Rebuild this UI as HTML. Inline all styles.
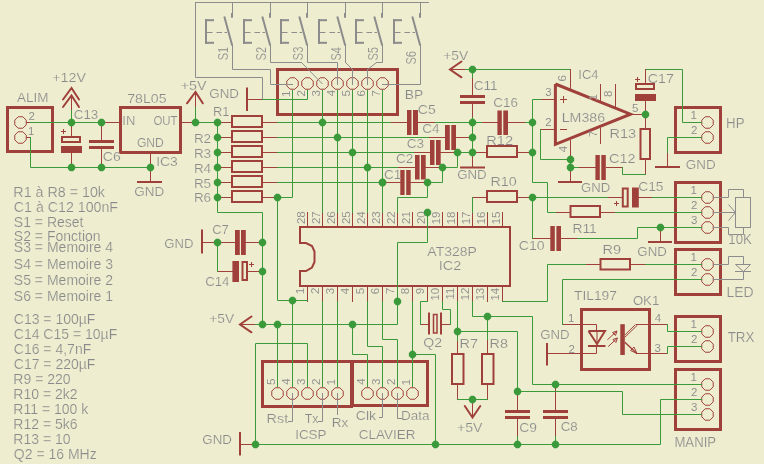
<!DOCTYPE html>
<html><head><meta charset="utf-8"><style>html,body{margin:0;padding:0;background:#EEEDD0;width:764px;height:464px;overflow:hidden}svg{display:block}svg{will-change:transform}</style></head>
<body><svg width="764" height="464" viewBox="0 0 764 464" font-family="'Liberation Sans', sans-serif"><style>text{stroke:#EEEDD0;stroke-width:0.18px}text.s{stroke-width:0.05px}</style>
<rect width="764" height="464" fill="#EEEDD0"/>
<g opacity="0.999"><path d="M6 106H54V153H6Z M9 109V150H51V109Z" fill="#A0403A" fill-rule="evenodd"/>
<polygon points="26.23,124.87 22.87,128.23 18.13,128.23 14.77,124.87 14.77,120.13 18.13,116.77 22.87,116.77 26.23,120.13" fill="none" stroke="#A0403A" stroke-width="1"/>
<polygon points="26.23,139.87 22.87,143.23 18.13,143.23 14.77,139.87 14.77,135.13 18.13,131.77 22.87,131.77 26.23,135.13" fill="none" stroke="#A0403A" stroke-width="1"/>
<path d="M26.5 122.5L30.5 122.5" stroke="#A0403A" stroke-width="1" fill="none" stroke-linecap="square"/>
<path d="M104.5 122.5L120.5 122.5" stroke="#A0403A" stroke-width="1" fill="none" stroke-linecap="square"/>
<path d="M26.5 137.5L30.5 137.5" stroke="#A0403A" stroke-width="1" fill="none" stroke-linecap="square"/>
<path d="M63 99.5L71.5 88L79 99.5" stroke="#A0403A" stroke-width="2" fill="none" stroke-linecap="round" stroke-linejoin="miter"/>
<path d="M63 107L71.5 95.5L79 107" stroke="#A0403A" stroke-width="2" fill="none" stroke-linecap="round" stroke-linejoin="miter"/>
<path d="M71.5 95.5L71.5 110.5" stroke="#A0403A" stroke-width="1" fill="none" stroke-linecap="square"/>
<path d="M61 136H81V143H61Z M63 138V141H79V138Z" fill="#A0403A" fill-rule="evenodd"/>
<rect x="61" y="146" width="21" height="7" fill="#A0403A"/>
<path d="M71.5 122.5L71.5 135.5" stroke="#A0403A" stroke-width="1" fill="none" stroke-linecap="square"/>
<path d="M71.5 153.5L71.5 167.5" stroke="#A0403A" stroke-width="1" fill="none" stroke-linecap="square"/>
<path d="M61 131.5L66 131.5" stroke="#A0403A" stroke-width="1" fill="none" stroke-linecap="butt" stroke-linejoin="miter"/>
<path d="M63.5 129L63.5 134" stroke="#A0403A" stroke-width="1" fill="none" stroke-linecap="butt" stroke-linejoin="miter"/>
<rect x="89" y="140" width="25" height="3" fill="#A0403A"/>
<rect x="89" y="146" width="25" height="3" fill="#A0403A"/>
<path d="M101.5 122.5L101.5 139.5" stroke="#A0403A" stroke-width="1" fill="none" stroke-linecap="square"/>
<path d="M101.5 149.5L101.5 167.5" stroke="#A0403A" stroke-width="1" fill="none" stroke-linecap="square"/>
<path d="M119 106H182V154H119Z M122 109V151H179V109Z" fill="#A0403A" fill-rule="evenodd"/>
<path d="M150.5 153.5L150.5 181.5" stroke="#A0403A" stroke-width="1" fill="none" stroke-linecap="square"/>
<path d="M137 182L162 182" stroke="#A0403A" stroke-width="2" fill="none" stroke-linecap="butt" stroke-linejoin="miter"/>
<path d="M182.5 122.5L192.5 122.5" stroke="#A0403A" stroke-width="1" fill="none" stroke-linecap="square"/>
<path d="M187 103.3L195.5 92L202.8 103.3" stroke="#A0403A" stroke-width="2" fill="none" stroke-linecap="round" stroke-linejoin="miter"/>
<path d="M195.5 92.5L195.5 107.5" stroke="#A0403A" stroke-width="1" fill="none" stroke-linecap="square"/>
<path d="M276 68H399V116H276Z M279 71V113H396V71Z" fill="#A0403A" fill-rule="evenodd"/>
<polygon points="298.23,85.87 294.87,89.23 290.13,89.23 286.77,85.87 286.77,81.13 290.13,77.77 294.87,77.77 298.23,81.13" fill="none" stroke="#A0403A" stroke-width="1"/>
<polygon points="313.23,85.87 309.87,89.23 305.13,89.23 301.77,85.87 301.77,81.13 305.13,77.77 309.87,77.77 313.23,81.13" fill="none" stroke="#A0403A" stroke-width="1"/>
<polygon points="328.23,85.87 324.87,89.23 320.13,89.23 316.77,85.87 316.77,81.13 320.13,77.77 324.87,77.77 328.23,81.13" fill="none" stroke="#A0403A" stroke-width="1"/>
<polygon points="343.23,85.87 339.87,89.23 335.13,89.23 331.77,85.87 331.77,81.13 335.13,77.77 339.87,77.77 343.23,81.13" fill="none" stroke="#A0403A" stroke-width="1"/>
<polygon points="358.23,85.87 354.87,89.23 350.13,89.23 346.77,85.87 346.77,81.13 350.13,77.77 354.87,77.77 358.23,81.13" fill="none" stroke="#A0403A" stroke-width="1"/>
<polygon points="373.23,85.87 369.87,89.23 365.13,89.23 361.77,85.87 361.77,81.13 365.13,77.77 369.87,77.77 373.23,81.13" fill="none" stroke="#A0403A" stroke-width="1"/>
<polygon points="388.23,85.87 384.87,89.23 380.13,89.23 376.77,85.87 376.77,81.13 380.13,77.77 384.87,77.77 388.23,81.13" fill="none" stroke="#A0403A" stroke-width="1"/>
<path d="M247 87.5L247 111" stroke="#A0403A" stroke-width="2" fill="none" stroke-linecap="butt" stroke-linejoin="miter"/>
<path d="M248.5 99.5L262.5 99.5" stroke="#A0403A" stroke-width="1" fill="none" stroke-linecap="square"/>
<path d="M231 115H263V128H231Z M233 117V126H261V117Z" fill="#A0403A" fill-rule="evenodd"/>
<path d="M217.5 122.5L231.5 122.5" stroke="#A0403A" stroke-width="1" fill="none" stroke-linecap="square"/>
<path d="M263.5 122.5L277.5 122.5" stroke="#A0403A" stroke-width="1" fill="none" stroke-linecap="square"/>
<path d="M231 130H263V143H231Z M233 132V141H261V132Z" fill="#A0403A" fill-rule="evenodd"/>
<path d="M217.5 137.5L231.5 137.5" stroke="#A0403A" stroke-width="1" fill="none" stroke-linecap="square"/>
<path d="M263.5 137.5L277.5 137.5" stroke="#A0403A" stroke-width="1" fill="none" stroke-linecap="square"/>
<path d="M231 145H263V158H231Z M233 147V156H261V147Z" fill="#A0403A" fill-rule="evenodd"/>
<path d="M217.5 152.5L231.5 152.5" stroke="#A0403A" stroke-width="1" fill="none" stroke-linecap="square"/>
<path d="M263.5 152.5L277.5 152.5" stroke="#A0403A" stroke-width="1" fill="none" stroke-linecap="square"/>
<path d="M231 160H263V173H231Z M233 162V171H261V162Z" fill="#A0403A" fill-rule="evenodd"/>
<path d="M217.5 167.5L231.5 167.5" stroke="#A0403A" stroke-width="1" fill="none" stroke-linecap="square"/>
<path d="M263.5 167.5L277.5 167.5" stroke="#A0403A" stroke-width="1" fill="none" stroke-linecap="square"/>
<path d="M231 175H263V188H231Z M233 177V186H261V177Z" fill="#A0403A" fill-rule="evenodd"/>
<path d="M217.5 182.5L231.5 182.5" stroke="#A0403A" stroke-width="1" fill="none" stroke-linecap="square"/>
<path d="M263.5 182.5L277.5 182.5" stroke="#A0403A" stroke-width="1" fill="none" stroke-linecap="square"/>
<path d="M231 190H263V203H231Z M233 192V201H261V192Z" fill="#A0403A" fill-rule="evenodd"/>
<path d="M217.5 197.5L231.5 197.5" stroke="#A0403A" stroke-width="1" fill="none" stroke-linecap="square"/>
<path d="M263.5 197.5L277.5 197.5" stroke="#A0403A" stroke-width="1" fill="none" stroke-linecap="square"/>
<rect x="407" y="110" width="4.5" height="25" fill="#A0403A"/>
<rect x="413" y="110" width="5" height="25" fill="#A0403A"/>
<path d="M390.5 122.5L407.5 122.5" stroke="#A0403A" stroke-width="1" fill="none" stroke-linecap="square"/>
<path d="M418.5 122.5L435.5 122.5" stroke="#A0403A" stroke-width="1" fill="none" stroke-linecap="square"/>
<rect x="445" y="125" width="4.8" height="25" fill="#A0403A"/>
<rect x="451.3" y="125" width="4.7" height="25" fill="#A0403A"/>
<path d="M428.5 137.5L445.5 137.5" stroke="#A0403A" stroke-width="1" fill="none" stroke-linecap="square"/>
<path d="M456.5 137.5L472.5 137.5" stroke="#A0403A" stroke-width="1" fill="none" stroke-linecap="square"/>
<rect x="430" y="140" width="4.5" height="25" fill="#A0403A"/>
<rect x="436" y="140" width="4.7" height="25" fill="#A0403A"/>
<path d="M413.5 152.5L430.5 152.5" stroke="#A0403A" stroke-width="1" fill="none" stroke-linecap="square"/>
<path d="M440.5 152.5L457.5 152.5" stroke="#A0403A" stroke-width="1" fill="none" stroke-linecap="square"/>
<rect x="415" y="155" width="4.6" height="24.5" fill="#A0403A"/>
<rect x="421" y="155" width="4.7" height="24.5" fill="#A0403A"/>
<path d="M397.5 167.5L415.5 167.5" stroke="#A0403A" stroke-width="1" fill="none" stroke-linecap="square"/>
<path d="M425.5 167.5L442.5 167.5" stroke="#A0403A" stroke-width="1" fill="none" stroke-linecap="square"/>
<rect x="400.3" y="170" width="4.3" height="25" fill="#A0403A"/>
<rect x="406.2" y="170" width="4.5" height="25" fill="#A0403A"/>
<path d="M382.5 182.5L400.5 182.5" stroke="#A0403A" stroke-width="1" fill="none" stroke-linecap="square"/>
<path d="M410.5 182.5L427.5 182.5" stroke="#A0403A" stroke-width="1" fill="none" stroke-linecap="square"/>
<path d="M472.5 152.5L472.5 166.5" stroke="#A0403A" stroke-width="1" fill="none" stroke-linecap="square"/>
<path d="M460 167.5L485 167.5" stroke="#A0403A" stroke-width="2" fill="none" stroke-linecap="butt" stroke-linejoin="miter"/>
<path d="M486 145H518V158H486Z M488 147V156H516V147Z" fill="#A0403A" fill-rule="evenodd"/>
<path d="M472.5 152.5L486.5 152.5" stroke="#A0403A" stroke-width="1" fill="none" stroke-linecap="square"/>
<path d="M518.5 152.5L532.5 152.5" stroke="#A0403A" stroke-width="1" fill="none" stroke-linecap="square"/>
<path d="M486 190H518V203H486Z M488 192V201H516V192Z" fill="#A0403A" fill-rule="evenodd"/>
<path d="M472.5 197.5L486.5 197.5" stroke="#A0403A" stroke-width="1" fill="none" stroke-linecap="square"/>
<path d="M518.5 197.5L532.5 197.5" stroke="#A0403A" stroke-width="1" fill="none" stroke-linecap="square"/>
<path d="M461.5 61.5L450 69.5L461.5 77.3" stroke="#A0403A" stroke-width="2" fill="none" stroke-linecap="round" stroke-linejoin="miter"/>
<path d="M450.5 69.5L465.5 69.5" stroke="#A0403A" stroke-width="1" fill="none" stroke-linecap="square"/>
<rect x="460" y="95" width="25" height="3" fill="#A0403A"/>
<rect x="460" y="101" width="25" height="3" fill="#A0403A"/>
<path d="M472.5 77.5L472.5 95.5" stroke="#A0403A" stroke-width="1" fill="none" stroke-linecap="square"/>
<path d="M472.5 104.5L472.5 117.5" stroke="#A0403A" stroke-width="1" fill="none" stroke-linecap="square"/>
<rect x="497.4" y="110.5" width="4.4" height="24.5" fill="#A0403A"/>
<rect x="503.3" y="110.5" width="4.7" height="24.5" fill="#A0403A"/>
<path d="M481.5 122.5L497.5 122.5" stroke="#A0403A" stroke-width="1" fill="none" stroke-linecap="square"/>
<path d="M508.5 122.5L525.5 122.5" stroke="#A0403A" stroke-width="1" fill="none" stroke-linecap="square"/>
<path d="M540.5 99.5L555.5 99.5" stroke="#A0403A" stroke-width="1" fill="none" stroke-linecap="square"/>
<path d="M555.4 84L630.5 114.2L555.4 144.4L555.4 84" stroke="#A0403A" stroke-width="3" fill="none" stroke-linecap="butt" stroke-linejoin="miter"/>
<path d="M570.5 69.5L570.5 89.5" stroke="#A0403A" stroke-width="1" fill="none" stroke-linecap="square"/>
<path d="M540.5 129.5L555.5 129.5" stroke="#A0403A" stroke-width="1" fill="none" stroke-linecap="square"/>
<path d="M570.5 140.5L570.5 159.5" stroke="#A0403A" stroke-width="1" fill="none" stroke-linecap="square"/>
<path d="M570.5 167.5L570.5 181.5" stroke="#A0403A" stroke-width="1" fill="none" stroke-linecap="square"/>
<path d="M558 182L582 182" stroke="#A0403A" stroke-width="2" fill="none" stroke-linecap="butt" stroke-linejoin="miter"/>
<path d="M560 99.5L567 99.5" stroke="#A0403A" stroke-width="1" fill="none" stroke-linecap="butt" stroke-linejoin="miter"/>
<path d="M563.5 96L563.5 103" stroke="#A0403A" stroke-width="1" fill="none" stroke-linecap="butt" stroke-linejoin="miter"/>
<path d="M560 129.5L567 129.5" stroke="#A0403A" stroke-width="1" fill="none" stroke-linecap="butt" stroke-linejoin="miter"/>
<path d="M600.5 84.5L600.5 101.5" stroke="#A0403A" stroke-width="1" fill="none" stroke-linecap="square"/>
<path d="M615.5 84.5L615.5 107.5" stroke="#A0403A" stroke-width="1" fill="none" stroke-linecap="square"/>
<path d="M600.5 128.5L600.5 143.5" stroke="#A0403A" stroke-width="1" fill="none" stroke-linecap="square"/>
<path d="M630.5 114.5L645.5 114.5" stroke="#A0403A" stroke-width="1" fill="none" stroke-linecap="square"/>
<path d="M635 83H655V90H635Z M637 85V88H653V85Z" fill="#A0403A" fill-rule="evenodd"/>
<rect x="635" y="94" width="21" height="7" fill="#A0403A"/>
<path d="M635 79.5L640 79.5" stroke="#A0403A" stroke-width="1" fill="none" stroke-linecap="butt" stroke-linejoin="miter"/>
<path d="M637.5 77L637.5 82" stroke="#A0403A" stroke-width="1" fill="none" stroke-linecap="butt" stroke-linejoin="miter"/>
<path d="M645.5 69.5L645.5 83.5" stroke="#A0403A" stroke-width="1" fill="none" stroke-linecap="square"/>
<path d="M645.5 101.5L645.5 128.5" stroke="#A0403A" stroke-width="1" fill="none" stroke-linecap="square"/>
<path d="M639.5 128H651V160H639.5Z M641.5 130V158H649V130Z" fill="#A0403A" fill-rule="evenodd"/>
<path d="M645.5 160.5L645.5 174.5" stroke="#A0403A" stroke-width="1" fill="none" stroke-linecap="square"/>
<path d="M622.5 167.5L606.5 167.5" stroke="#A0403A" stroke-width="1" fill="none" stroke-linecap="square"/>
<rect x="595.4" y="155" width="4.4" height="25" fill="#A0403A"/>
<rect x="601.3" y="155" width="4.5" height="25" fill="#A0403A"/>
<path d="M578.5 167.5L595.5 167.5" stroke="#A0403A" stroke-width="1" fill="none" stroke-linecap="square"/>
<path d="M674 106H722V154H674Z M677 109V151H719V109Z" fill="#A0403A" fill-rule="evenodd"/>
<polygon points="713.23,124.87 709.87,128.23 705.13,128.23 701.77,124.87 701.77,120.13 705.13,116.77 709.87,116.77 713.23,120.13" fill="none" stroke="#A0403A" stroke-width="1"/>
<polygon points="713.23,139.87 709.87,143.23 705.13,143.23 701.77,139.87 701.77,135.13 705.13,131.77 709.87,131.77 713.23,135.13" fill="none" stroke="#A0403A" stroke-width="1"/>
<path d="M667.5 152.5L667.5 166.5" stroke="#A0403A" stroke-width="1" fill="none" stroke-linecap="square"/>
<path d="M655 167L680 167" stroke="#A0403A" stroke-width="2" fill="none" stroke-linecap="butt" stroke-linejoin="miter"/>
<path d="M674 181H722V244H674Z M677 184V241H719V184Z" fill="#A0403A" fill-rule="evenodd"/>
<polygon points="713.23,199.87 709.87,203.23 705.13,203.23 701.77,199.87 701.77,195.13 705.13,191.77 709.87,191.77 713.23,195.13" fill="none" stroke="#A0403A" stroke-width="1"/>
<polygon points="713.23,214.87 709.87,218.23 705.13,218.23 701.77,214.87 701.77,210.13 705.13,206.77 709.87,206.77 713.23,210.13" fill="none" stroke="#A0403A" stroke-width="1"/>
<polygon points="713.23,229.87 709.87,233.23 705.13,233.23 701.77,229.87 701.77,225.13 705.13,221.77 709.87,221.77 713.23,225.13" fill="none" stroke="#A0403A" stroke-width="1"/>
<path d="M638.5 197.5L652.5 197.5" stroke="#A0403A" stroke-width="1" fill="none" stroke-linecap="square"/>
<path d="M660.5 227.5L660.5 241.5" stroke="#A0403A" stroke-width="1" fill="none" stroke-linecap="square"/>
<path d="M648 242L672 242" stroke="#A0403A" stroke-width="2" fill="none" stroke-linecap="butt" stroke-linejoin="miter"/>
<path d="M674 248H722V296H674Z M677 251V293H719V251Z" fill="#A0403A" fill-rule="evenodd"/>
<polygon points="713.23,266.87 709.87,270.23 705.13,270.23 701.77,266.87 701.77,262.13 705.13,258.77 709.87,258.77 713.23,262.13" fill="none" stroke="#A0403A" stroke-width="1"/>
<polygon points="713.23,281.87 709.87,285.23 705.13,285.23 701.77,281.87 701.77,277.13 705.13,273.77 709.87,273.77 713.23,277.13" fill="none" stroke="#A0403A" stroke-width="1"/>
<path d="M630.5 264.5L645.5 264.5" stroke="#A0403A" stroke-width="1" fill="none" stroke-linecap="square"/>
<path d="M674 315H722V363H674Z M677 318V360H719V318Z" fill="#A0403A" fill-rule="evenodd"/>
<polygon points="713.23,333.87 709.87,337.23 705.13,337.23 701.77,333.87 701.77,329.13 705.13,325.77 709.87,325.77 713.23,329.13" fill="none" stroke="#A0403A" stroke-width="1"/>
<polygon points="713.23,348.87 709.87,352.23 705.13,352.23 701.77,348.87 701.77,344.13 705.13,340.77 709.87,340.77 713.23,344.13" fill="none" stroke="#A0403A" stroke-width="1"/>
<path d="M674 368H722V431H674Z M677 371V428H719V371Z" fill="#A0403A" fill-rule="evenodd"/>
<polygon points="713.23,386.87 709.87,390.23 705.13,390.23 701.77,386.87 701.77,382.13 705.13,378.77 709.87,378.77 713.23,382.13" fill="none" stroke="#A0403A" stroke-width="1"/>
<polygon points="713.23,401.87 709.87,405.23 705.13,405.23 701.77,401.87 701.77,397.13 705.13,393.77 709.87,393.77 713.23,397.13" fill="none" stroke="#A0403A" stroke-width="1"/>
<polygon points="713.23,416.87 709.87,420.23 705.13,420.23 701.77,416.87 701.77,412.13 705.13,408.77 709.87,408.77 713.23,412.13" fill="none" stroke="#A0403A" stroke-width="1"/>
<path d="M599.5 258H631V270.5H599.5Z M601.5 260V268.5H629V260Z" fill="#A0403A" fill-rule="evenodd"/>
<path d="M585.5 264.5L599.5 264.5" stroke="#A0403A" stroke-width="1" fill="none" stroke-linecap="square"/>
<path d="M569.5 205H601V218H569.5Z M571.5 207V216H599V207Z" fill="#A0403A" fill-rule="evenodd"/>
<path d="M555.5 212.5L569.5 212.5" stroke="#A0403A" stroke-width="1" fill="none" stroke-linecap="square"/>
<path d="M601.5 212.5L615.5 212.5" stroke="#A0403A" stroke-width="1" fill="none" stroke-linecap="square"/>
<rect x="550.3" y="226" width="4.5" height="25" fill="#A0403A"/>
<rect x="556.4" y="226" width="4.6" height="25" fill="#A0403A"/>
<path d="M532.5 238.5L550.5 238.5" stroke="#A0403A" stroke-width="1" fill="none" stroke-linecap="square"/>
<path d="M561.5 238.5L577.5 238.5" stroke="#A0403A" stroke-width="1" fill="none" stroke-linecap="square"/>
<path d="M607.5 197.5L622.5 197.5" stroke="#A0403A" stroke-width="1" fill="none" stroke-linecap="square"/>
<path d="M621.8 187.5H628.7V207.5H621.8Z M623.8 189.5V205.5H626.7V189.5Z" fill="#A0403A" fill-rule="evenodd"/>
<rect x="632" y="187.5" width="6.8" height="20" fill="#A0403A"/>
<path d="M614 203.5L619 203.5" stroke="#A0403A" stroke-width="1" fill="none" stroke-linecap="butt" stroke-linejoin="miter"/>
<path d="M616.5 201L616.5 206" stroke="#A0403A" stroke-width="1" fill="none" stroke-linecap="butt" stroke-linejoin="miter"/>
<path d="M300 227 H510 V286 H300 V271 H306 L312 267.5 L314.5 262 V251.5 L312 246 L306 243 H300 Z" fill="none" stroke="#A0403A" stroke-width="2"/>
<path d="M502.5 212.5L502.5 226.5" stroke="#A0403A" stroke-width="1" fill="none" stroke-linecap="square"/>
<path d="M487.5 212.5L487.5 226.5" stroke="#A0403A" stroke-width="1" fill="none" stroke-linecap="square"/>
<path d="M472.5 212.5L472.5 226.5" stroke="#A0403A" stroke-width="1" fill="none" stroke-linecap="square"/>
<path d="M457.5 212.5L457.5 226.5" stroke="#A0403A" stroke-width="1" fill="none" stroke-linecap="square"/>
<path d="M442.5 212.5L442.5 226.5" stroke="#A0403A" stroke-width="1" fill="none" stroke-linecap="square"/>
<path d="M427.5 212.5L427.5 226.5" stroke="#A0403A" stroke-width="1" fill="none" stroke-linecap="square"/>
<path d="M412.5 212.5L412.5 226.5" stroke="#A0403A" stroke-width="1" fill="none" stroke-linecap="square"/>
<path d="M397.5 212.5L397.5 226.5" stroke="#A0403A" stroke-width="1" fill="none" stroke-linecap="square"/>
<path d="M382.5 212.5L382.5 226.5" stroke="#A0403A" stroke-width="1" fill="none" stroke-linecap="square"/>
<path d="M367.5 212.5L367.5 226.5" stroke="#A0403A" stroke-width="1" fill="none" stroke-linecap="square"/>
<path d="M352.5 212.5L352.5 226.5" stroke="#A0403A" stroke-width="1" fill="none" stroke-linecap="square"/>
<path d="M337.5 212.5L337.5 226.5" stroke="#A0403A" stroke-width="1" fill="none" stroke-linecap="square"/>
<path d="M322.5 212.5L322.5 226.5" stroke="#A0403A" stroke-width="1" fill="none" stroke-linecap="square"/>
<path d="M307.5 212.5L307.5 226.5" stroke="#A0403A" stroke-width="1" fill="none" stroke-linecap="square"/>
<path d="M307.5 286.5L307.5 301.5" stroke="#A0403A" stroke-width="1" fill="none" stroke-linecap="square"/>
<path d="M322.5 286.5L322.5 301.5" stroke="#A0403A" stroke-width="1" fill="none" stroke-linecap="square"/>
<path d="M337.5 286.5L337.5 301.5" stroke="#A0403A" stroke-width="1" fill="none" stroke-linecap="square"/>
<path d="M352.5 286.5L352.5 301.5" stroke="#A0403A" stroke-width="1" fill="none" stroke-linecap="square"/>
<path d="M367.5 286.5L367.5 301.5" stroke="#A0403A" stroke-width="1" fill="none" stroke-linecap="square"/>
<path d="M382.5 286.5L382.5 301.5" stroke="#A0403A" stroke-width="1" fill="none" stroke-linecap="square"/>
<path d="M397.5 286.5L397.5 301.5" stroke="#A0403A" stroke-width="1" fill="none" stroke-linecap="square"/>
<path d="M412.5 286.5L412.5 301.5" stroke="#A0403A" stroke-width="1" fill="none" stroke-linecap="square"/>
<path d="M427.5 286.5L427.5 301.5" stroke="#A0403A" stroke-width="1" fill="none" stroke-linecap="square"/>
<path d="M442.5 286.5L442.5 301.5" stroke="#A0403A" stroke-width="1" fill="none" stroke-linecap="square"/>
<path d="M457.5 286.5L457.5 301.5" stroke="#A0403A" stroke-width="1" fill="none" stroke-linecap="square"/>
<path d="M472.5 286.5L472.5 301.5" stroke="#A0403A" stroke-width="1" fill="none" stroke-linecap="square"/>
<path d="M487.5 286.5L487.5 301.5" stroke="#A0403A" stroke-width="1" fill="none" stroke-linecap="square"/>
<path d="M502.5 286.5L502.5 301.5" stroke="#A0403A" stroke-width="1" fill="none" stroke-linecap="square"/>
<path d="M420.5 324.5L428.5 324.5" stroke="#A0403A" stroke-width="1" fill="none" stroke-linecap="square"/>
<path d="M450.5 324.5L442.5 324.5" stroke="#A0403A" stroke-width="1" fill="none" stroke-linecap="square"/>
<path d="M429 312.5L429 334.5" stroke="#A0403A" stroke-width="2" fill="none" stroke-linecap="butt" stroke-linejoin="miter"/>
<path d="M441 312.5L441 334.5" stroke="#A0403A" stroke-width="2" fill="none" stroke-linecap="butt" stroke-linejoin="miter"/>
<rect x="433.5" y="314.5" width="3.5" height="18.5" fill="none" stroke="#A0403A" stroke-width="1.5"/>
<path d="M457.5 340.5L457.5 353.5" stroke="#A0403A" stroke-width="1" fill="none" stroke-linecap="square"/>
<path d="M487.5 339.5L487.5 353.5" stroke="#A0403A" stroke-width="1" fill="none" stroke-linecap="square"/>
<path d="M451 353H464.5V385H451Z M453 355V383H462.5V355Z" fill="#A0403A" fill-rule="evenodd"/>
<path d="M481 353H494.5V385H481Z M483 355V383H492.5V355Z" fill="#A0403A" fill-rule="evenodd"/>
<path d="M457.5 385.5L457.5 399.5" stroke="#A0403A" stroke-width="1" fill="none" stroke-linecap="square"/>
<path d="M487.5 385.5L487.5 399.5" stroke="#A0403A" stroke-width="1" fill="none" stroke-linecap="square"/>
<path d="M472.5 399.5L472.5 417.5" stroke="#A0403A" stroke-width="1" fill="none" stroke-linecap="square"/>
<path d="M464.8 406L472.5 417.5L480.3 406" stroke="#A0403A" stroke-width="2" fill="none" stroke-linecap="round" stroke-linejoin="miter"/>
<rect x="505" y="410" width="25" height="3" fill="#A0403A"/>
<rect x="505" y="416" width="25" height="3" fill="#A0403A"/>
<rect x="543" y="410" width="25" height="3" fill="#A0403A"/>
<rect x="543" y="416" width="25" height="3" fill="#A0403A"/>
<path d="M517.5 391.5L517.5 410.5" stroke="#A0403A" stroke-width="1" fill="none" stroke-linecap="square"/>
<path d="M517.5 419.5L517.5 436.5" stroke="#A0403A" stroke-width="1" fill="none" stroke-linecap="square"/>
<path d="M555.5 384.5L555.5 410.5" stroke="#A0403A" stroke-width="1" fill="none" stroke-linecap="square"/>
<path d="M555.5 419.5L555.5 436.5" stroke="#A0403A" stroke-width="1" fill="none" stroke-linecap="square"/>
<path d="M261 360H353V408H261Z M264 363V405H350V363Z" fill="#A0403A" fill-rule="evenodd"/>
<path d="M351 360H429V407H351Z M354 363V404H426V363Z" fill="#A0403A" fill-rule="evenodd"/>
<polygon points="283.23,395.87 279.87,399.23 275.13,399.23 271.77,395.87 271.77,391.13 275.13,387.77 279.87,387.77 283.23,391.13" fill="none" stroke="#A0403A" stroke-width="1"/>
<polygon points="298.23,395.87 294.87,399.23 290.13,399.23 286.77,395.87 286.77,391.13 290.13,387.77 294.87,387.77 298.23,391.13" fill="none" stroke="#A0403A" stroke-width="1"/>
<polygon points="313.23,395.87 309.87,399.23 305.13,399.23 301.77,395.87 301.77,391.13 305.13,387.77 309.87,387.77 313.23,391.13" fill="none" stroke="#A0403A" stroke-width="1"/>
<polygon points="328.23,395.87 324.87,399.23 320.13,399.23 316.77,395.87 316.77,391.13 320.13,387.77 324.87,387.77 328.23,391.13" fill="none" stroke="#A0403A" stroke-width="1"/>
<polygon points="343.23,395.87 339.87,399.23 335.13,399.23 331.77,395.87 331.77,391.13 335.13,387.77 339.87,387.77 343.23,391.13" fill="none" stroke="#A0403A" stroke-width="1"/>
<polygon points="373.23,395.87 369.87,399.23 365.13,399.23 361.77,395.87 361.77,391.13 365.13,387.77 369.87,387.77 373.23,391.13" fill="none" stroke="#A0403A" stroke-width="1"/>
<polygon points="388.23,395.87 384.87,399.23 380.13,399.23 376.77,395.87 376.77,391.13 380.13,387.77 384.87,387.77 388.23,391.13" fill="none" stroke="#A0403A" stroke-width="1"/>
<polygon points="403.23,395.87 399.87,399.23 395.13,399.23 391.77,395.87 391.77,391.13 395.13,387.77 399.87,387.77 403.23,391.13" fill="none" stroke="#A0403A" stroke-width="1"/>
<polygon points="418.23,395.87 414.87,399.23 410.13,399.23 406.77,395.87 406.77,391.13 410.13,387.77 414.87,387.77 418.23,391.13" fill="none" stroke="#A0403A" stroke-width="1"/>
<path d="M240 432L240 455.5" stroke="#A0403A" stroke-width="2" fill="none" stroke-linecap="butt" stroke-linejoin="miter"/>
<path d="M241.5 444.5L255.5 444.5" stroke="#A0403A" stroke-width="1" fill="none" stroke-linecap="square"/>
<path d="M202 229.5L202 253.5" stroke="#A0403A" stroke-width="2" fill="none" stroke-linecap="butt" stroke-linejoin="miter"/>
<path d="M203.5 242.5L235.5 242.5" stroke="#A0403A" stroke-width="1" fill="none" stroke-linecap="square"/>
<rect x="235" y="230" width="4.8" height="25" fill="#A0403A"/>
<rect x="241" y="230" width="4.8" height="25" fill="#A0403A"/>
<path d="M245.5 242.5L262.5 242.5" stroke="#A0403A" stroke-width="1" fill="none" stroke-linecap="square"/>
<path d="M217.5 271.5L232.5 271.5" stroke="#A0403A" stroke-width="1" fill="none" stroke-linecap="square"/>
<rect x="232.4" y="261" width="6.6" height="21" fill="#A0403A"/>
<path d="M241.5 261H248V281H241.5Z M243.5 263V279H246V263Z" fill="#A0403A" fill-rule="evenodd"/>
<path d="M249 264.5L254 264.5" stroke="#A0403A" stroke-width="1" fill="none" stroke-linecap="butt" stroke-linejoin="miter"/>
<path d="M251.5 262L251.5 267" stroke="#A0403A" stroke-width="1" fill="none" stroke-linecap="butt" stroke-linejoin="miter"/>
<path d="M248.5 271.5L262.5 271.5" stroke="#A0403A" stroke-width="1" fill="none" stroke-linecap="square"/>
<path d="M251.5 316.5L240 324.5L251.5 332.3" stroke="#A0403A" stroke-width="2" fill="none" stroke-linecap="round" stroke-linejoin="miter"/>
<path d="M240.5 324.5L255.5 324.5" stroke="#A0403A" stroke-width="1" fill="none" stroke-linecap="square"/>
<path d="M580 308H651V371H580Z M583 311V368H648V311Z" fill="#A0403A" fill-rule="evenodd"/>
<path d="M562.5 324.5L596.5 324.5L596.5 330.5" stroke="#A0403A" stroke-width="1" fill="none" stroke-linecap="square"/>
<path d="M547.5 353.5L596.5 353.5L596.5 346.5" stroke="#A0403A" stroke-width="1" fill="none" stroke-linecap="square"/>
<path d="M547 343L547 365.5" stroke="#A0403A" stroke-width="2" fill="none" stroke-linecap="butt" stroke-linejoin="miter"/>
<path d="M588.5 331L605 331L597 344L588.5 331" stroke="#A0403A" stroke-width="2" fill="none" stroke-linecap="butt" stroke-linejoin="miter"/>
<path d="M597 331L597 346" stroke="#A0403A" stroke-width="1" fill="none" stroke-linecap="butt" stroke-linejoin="miter"/>
<path d="M588 346L605.5 346" stroke="#A0403A" stroke-width="2" fill="none" stroke-linecap="butt" stroke-linejoin="miter"/>
<path d="M607.4 339.8L617 331" stroke="#A0403A" stroke-width="1" fill="none" stroke-linecap="butt" stroke-linejoin="miter"/>
<path d="M612.5 332.5L617 331L615.5 335.5L612.5 332.5" stroke="#A0403A" stroke-width="1" fill="none" stroke-linecap="butt" stroke-linejoin="miter"/>
<path d="M608.2 346.6L617.4 338" stroke="#A0403A" stroke-width="1" fill="none" stroke-linecap="butt" stroke-linejoin="miter"/>
<path d="M612.9 339.5L617.4 338L615.9 342.5L612.9 339.5" stroke="#A0403A" stroke-width="1" fill="none" stroke-linecap="butt" stroke-linejoin="miter"/>
<rect x="620.3" y="324.2" width="4.5" height="30.8" fill="#A0403A"/>
<path d="M624.8 335L635.5 324.5" stroke="#A0403A" stroke-width="1" fill="none" stroke-linecap="butt" stroke-linejoin="miter"/>
<path d="M624.8 337.3L637.5 325" stroke="#A0403A" stroke-width="1" fill="none" stroke-linecap="butt" stroke-linejoin="miter"/>
<path d="M624.8 342.2L637.2 353.8" stroke="#A0403A" stroke-width="1.4" fill="none" stroke-linecap="butt" stroke-linejoin="miter"/>
<path d="M630.5 350.5L637 353.5L634 347L630.5 350.5" stroke="#A0403A" stroke-width="1" fill="none" stroke-linecap="butt" stroke-linejoin="miter"/>
<path d="M636.5 324.5L667.5 324.5" stroke="#A0403A" stroke-width="1" fill="none" stroke-linecap="square"/>
<path d="M637.5 353.5L667.5 353.5" stroke="#A0403A" stroke-width="1" fill="none" stroke-linecap="square"/>
<path d="M195.5 2.5L428.5 2.5" stroke="#8C8C8C" stroke-width="1" fill="none" stroke-linecap="square"/>
<path d="M195.5 2.5L195.5 77.5L262.5 77.5L262.5 99.5" stroke="#8C8C8C" stroke-width="1" fill="none" stroke-linecap="square"/>
<path d="M232.5 2.5L232.5 13.5" stroke="#8C8C8C" stroke-width="1" fill="none" stroke-linecap="square"/>
<path d="M232 13L232 17.7" stroke="#8C8C8C" stroke-width="2" fill="none" stroke-linecap="butt" stroke-linejoin="miter"/>
<path d="M224.3 16.5L232.2 45.5" stroke="#8C8C8C" stroke-width="2" fill="none" stroke-linecap="butt" stroke-linejoin="miter"/>
<path d="M232.5 45.5L232.5 49.5" stroke="#8C8C8C" stroke-width="1" fill="none" stroke-linecap="square"/>
<rect x="205" y="19" width="2" height="25" fill="#8C8C8C"/>
<rect x="205" y="19.2" width="9" height="2" fill="#8C8C8C"/>
<rect x="205" y="41.8" width="9" height="2" fill="#8C8C8C"/>
<rect x="207" y="32" width="5.5" height="1" fill="#8C8C8C"/>
<rect x="216.5" y="32" width="5.5" height="1" fill="#8C8C8C"/>
<rect x="224.5" y="32" width="2.5" height="1" fill="#8C8C8C"/>
<path d="M270.5 2.5L270.5 13.5" stroke="#8C8C8C" stroke-width="1" fill="none" stroke-linecap="square"/>
<path d="M270 13L270 17.7" stroke="#8C8C8C" stroke-width="2" fill="none" stroke-linecap="butt" stroke-linejoin="miter"/>
<path d="M262.3 16.5L270.2 45.5" stroke="#8C8C8C" stroke-width="2" fill="none" stroke-linecap="butt" stroke-linejoin="miter"/>
<path d="M270.5 45.5L270.5 49.5" stroke="#8C8C8C" stroke-width="1" fill="none" stroke-linecap="square"/>
<rect x="243" y="19" width="2" height="25" fill="#8C8C8C"/>
<rect x="243" y="19.2" width="9" height="2" fill="#8C8C8C"/>
<rect x="243" y="41.8" width="9" height="2" fill="#8C8C8C"/>
<rect x="245" y="32" width="5.5" height="1" fill="#8C8C8C"/>
<rect x="254.5" y="32" width="5.5" height="1" fill="#8C8C8C"/>
<rect x="262.5" y="32" width="2.5" height="1" fill="#8C8C8C"/>
<path d="M307.5 2.5L307.5 13.5" stroke="#8C8C8C" stroke-width="1" fill="none" stroke-linecap="square"/>
<path d="M307 13L307 17.7" stroke="#8C8C8C" stroke-width="2" fill="none" stroke-linecap="butt" stroke-linejoin="miter"/>
<path d="M299.3 16.5L307.2 45.5" stroke="#8C8C8C" stroke-width="2" fill="none" stroke-linecap="butt" stroke-linejoin="miter"/>
<path d="M307.5 45.5L307.5 49.5" stroke="#8C8C8C" stroke-width="1" fill="none" stroke-linecap="square"/>
<rect x="280" y="19" width="2" height="25" fill="#8C8C8C"/>
<rect x="280" y="19.2" width="9" height="2" fill="#8C8C8C"/>
<rect x="280" y="41.8" width="9" height="2" fill="#8C8C8C"/>
<rect x="282" y="32" width="5.5" height="1" fill="#8C8C8C"/>
<rect x="291.5" y="32" width="5.5" height="1" fill="#8C8C8C"/>
<rect x="299.5" y="32" width="2.5" height="1" fill="#8C8C8C"/>
<path d="M345.5 2.5L345.5 13.5" stroke="#8C8C8C" stroke-width="1" fill="none" stroke-linecap="square"/>
<path d="M345 13L345 17.7" stroke="#8C8C8C" stroke-width="2" fill="none" stroke-linecap="butt" stroke-linejoin="miter"/>
<path d="M337.3 16.5L345.2 45.5" stroke="#8C8C8C" stroke-width="2" fill="none" stroke-linecap="butt" stroke-linejoin="miter"/>
<path d="M345.5 45.5L345.5 49.5" stroke="#8C8C8C" stroke-width="1" fill="none" stroke-linecap="square"/>
<rect x="318" y="19" width="2" height="25" fill="#8C8C8C"/>
<rect x="318" y="19.2" width="9" height="2" fill="#8C8C8C"/>
<rect x="318" y="41.8" width="9" height="2" fill="#8C8C8C"/>
<rect x="320" y="32" width="5.5" height="1" fill="#8C8C8C"/>
<rect x="329.5" y="32" width="5.5" height="1" fill="#8C8C8C"/>
<rect x="337.5" y="32" width="2.5" height="1" fill="#8C8C8C"/>
<path d="M382.5 2.5L382.5 13.5" stroke="#8C8C8C" stroke-width="1" fill="none" stroke-linecap="square"/>
<path d="M382 13L382 17.7" stroke="#8C8C8C" stroke-width="2" fill="none" stroke-linecap="butt" stroke-linejoin="miter"/>
<path d="M374.3 16.5L382.2 45.5" stroke="#8C8C8C" stroke-width="2" fill="none" stroke-linecap="butt" stroke-linejoin="miter"/>
<path d="M382.5 45.5L382.5 49.5" stroke="#8C8C8C" stroke-width="1" fill="none" stroke-linecap="square"/>
<rect x="355" y="19" width="2" height="25" fill="#8C8C8C"/>
<rect x="355" y="19.2" width="9" height="2" fill="#8C8C8C"/>
<rect x="355" y="41.8" width="9" height="2" fill="#8C8C8C"/>
<rect x="357" y="32" width="5.5" height="1" fill="#8C8C8C"/>
<rect x="366.5" y="32" width="5.5" height="1" fill="#8C8C8C"/>
<rect x="374.5" y="32" width="2.5" height="1" fill="#8C8C8C"/>
<path d="M420.5 2.5L420.5 13.5" stroke="#8C8C8C" stroke-width="1" fill="none" stroke-linecap="square"/>
<path d="M420 13L420 17.7" stroke="#8C8C8C" stroke-width="2" fill="none" stroke-linecap="butt" stroke-linejoin="miter"/>
<path d="M412.3 16.5L420.2 45.5" stroke="#8C8C8C" stroke-width="2" fill="none" stroke-linecap="butt" stroke-linejoin="miter"/>
<path d="M420.5 45.5L420.5 49.5" stroke="#8C8C8C" stroke-width="1" fill="none" stroke-linecap="square"/>
<rect x="393" y="19" width="2" height="25" fill="#8C8C8C"/>
<rect x="393" y="19.2" width="9" height="2" fill="#8C8C8C"/>
<rect x="393" y="41.8" width="9" height="2" fill="#8C8C8C"/>
<rect x="395" y="32" width="5.5" height="1" fill="#8C8C8C"/>
<rect x="404.5" y="32" width="5.5" height="1" fill="#8C8C8C"/>
<rect x="412.5" y="32" width="2.5" height="1" fill="#8C8C8C"/>
<path d="M232.5 49.5L232.5 69.5L270.5 69.5L270.5 84.5L292.5 84.5" stroke="#8C8C8C" stroke-width="1" fill="none" stroke-linecap="square"/>
<path d="M270.5 49.5L270.5 62.5L301.5 62.5" stroke="#8C8C8C" stroke-width="1" fill="none" stroke-linecap="square"/>
<path d="M301.5 62.5L322.5 84" stroke="#8C8C8C" stroke-width="1" fill="none" stroke-linecap="butt" stroke-linejoin="miter"/>
<path d="M307.5 49.5L307.5 62.5L337.5 62.5L337.5 84.5" stroke="#8C8C8C" stroke-width="1" fill="none" stroke-linecap="square"/>
<path d="M345.5 49.5L345.5 62.5" stroke="#8C8C8C" stroke-width="1" fill="none" stroke-linecap="square"/>
<path d="M345.5 62.5L352.5 69.5" stroke="#8C8C8C" stroke-width="1" fill="none" stroke-linecap="butt" stroke-linejoin="miter"/>
<path d="M352.5 69.5L352.5 84.5" stroke="#8C8C8C" stroke-width="1" fill="none" stroke-linecap="square"/>
<path d="M382.5 49.5L382.5 62.5L376.5 62.5" stroke="#8C8C8C" stroke-width="1" fill="none" stroke-linecap="square"/>
<path d="M376.5 62.5L367.5 69.5" stroke="#8C8C8C" stroke-width="1" fill="none" stroke-linecap="butt" stroke-linejoin="miter"/>
<path d="M367.5 69.5L367.5 84.5" stroke="#8C8C8C" stroke-width="1" fill="none" stroke-linecap="square"/>
<path d="M420.5 49.5L420.5 84.5L382.5 84.5" stroke="#8C8C8C" stroke-width="1" fill="none" stroke-linecap="square"/>
<path d="M713.5 197.5L728.5 197.5L728.5 189.5L743.5 189.5L743.5 197.5" stroke="#8C8C8C" stroke-width="1" fill="none" stroke-linecap="square"/>
<path d="M713.5 227.5L728.5 227.5L728.5 234.5L743.5 234.5L743.5 227.5" stroke="#8C8C8C" stroke-width="1" fill="none" stroke-linecap="square"/>
<rect x="735.5" y="197.5" width="15" height="30" fill="none" stroke="#8C8C8C" stroke-width="1"/>
<path d="M713.5 212.5L735.5 212.5" stroke="#8C8C8C" stroke-width="1" fill="none" stroke-linecap="square"/>
<path d="M728.5 204.5L735.5 212.5L728.5 220.5" stroke="#8C8C8C" stroke-width="1" fill="none" stroke-linecap="butt" stroke-linejoin="miter"/>
<path d="M713.5 264.5L728.5 264.5L728.5 256.5L743.5 256.5L743.5 264.5" stroke="#8C8C8C" stroke-width="1" fill="none" stroke-linecap="square"/>
<path d="M713.5 279.5L743.5 279.5L743.5 271.5" stroke="#8C8C8C" stroke-width="1" fill="none" stroke-linecap="square"/>
<path d="M735.5 264.5L750.5 264.5L743.5 271.5L735.5 264.5" stroke="#8C8C8C" stroke-width="1" fill="none" stroke-linecap="butt" stroke-linejoin="miter"/>
<path d="M735.5 271.5L750.5 271.5" stroke="#8C8C8C" stroke-width="1" fill="none" stroke-linecap="square"/>
<path d="M292.5 393.5L292.5 421.5L288.5 421.5" stroke="#8C8C8C" stroke-width="1" fill="none" stroke-linecap="square"/>
<path d="M322.5 393.5L322.5 421.5L318.5 421.5" stroke="#8C8C8C" stroke-width="1" fill="none" stroke-linecap="square"/>
<path d="M337.5 393.5L337.5 414.5" stroke="#8C8C8C" stroke-width="1" fill="none" stroke-linecap="square"/>
<path d="M382.5 393.5L382.5 417.5L379.5 417.5" stroke="#8C8C8C" stroke-width="1" fill="none" stroke-linecap="square"/>
<path d="M397.5 393.5L397.5 418.5L402.5 418.5" stroke="#8C8C8C" stroke-width="1" fill="none" stroke-linecap="square"/>
<text x="13.33" y="196.5" font-size="14" fill="#8A8A8A" text-anchor="start" textLength="91.65" lengthAdjust="spacingAndGlyphs">R1 à R8 = 10k</text>
<text x="13.78" y="211.75" font-size="14" fill="#8A8A8A" text-anchor="start" textLength="104.29" lengthAdjust="spacingAndGlyphs">C1 à C12 100nF</text>
<text x="13.86" y="226.75" font-size="14" fill="#8A8A8A" text-anchor="start">S1 = Reset</text>
<text x="13.86" y="241" font-size="14" fill="#8A8A8A" text-anchor="start">S2 = Fonction</text>
<text x="13.86" y="252.25" font-size="14" fill="#8A8A8A" text-anchor="start">S3 = Memoire 4</text>
<text x="13.86" y="268.5" font-size="14" fill="#8A8A8A" text-anchor="start">S4 = Memoire 3</text>
<text x="13.86" y="284.5" font-size="14" fill="#8A8A8A" text-anchor="start">S5 = Memoire 2</text>
<text x="13.86" y="301" font-size="14" fill="#8A8A8A" text-anchor="start">S6 = Memoire 1</text>
<text x="13.79" y="323.5" font-size="14" fill="#8A8A8A" text-anchor="start">C13 = 100µF</text>
<text x="13.79" y="338.5" font-size="14" fill="#8A8A8A" text-anchor="start">C14 C15 = 10µF</text>
<text x="13.79" y="353.5" font-size="14" fill="#8A8A8A" text-anchor="start">C16 = 4,7nF</text>
<text x="13.79" y="368.5" font-size="14" fill="#8A8A8A" text-anchor="start">C17 = 220µF</text>
<text x="13.35" y="383.5" font-size="14" fill="#8A8A8A" text-anchor="start">R9 = 220</text>
<text x="13.35" y="398.5" font-size="14" fill="#8A8A8A" text-anchor="start">R10 = 2k2</text>
<text x="13.35" y="413.5" font-size="14" fill="#8A8A8A" text-anchor="start">R11 = 100 k</text>
<text x="13.35" y="428.5" font-size="14" fill="#8A8A8A" text-anchor="start">R12 = 5k6</text>
<text x="13.35" y="443.5" font-size="14" fill="#8A8A8A" text-anchor="start">R13 = 10</text>
<text x="13.84" y="458.5" font-size="14" fill="#8A8A8A" text-anchor="start">Q2 = 16 MHz</text>
<text x="28.42" y="120" font-size="11.5" fill="#8A8A8A" text-anchor="start" class="s">2</text>
<text x="28.12" y="134.5" font-size="11.5" fill="#8A8A8A" text-anchor="start" class="s">1</text>
<text x="16.97" y="102" font-size="13.5" fill="#8A8A8A" text-anchor="start" textLength="31.43" lengthAdjust="spacingAndGlyphs">ALIM</text>
<text x="52.3" y="82" font-size="13.5" fill="#8A8A8A" text-anchor="start" textLength="33.66" lengthAdjust="spacingAndGlyphs">+12V</text>
<text x="73.82" y="118.5" font-size="13.5" fill="#8A8A8A" text-anchor="start" textLength="24.46" lengthAdjust="spacingAndGlyphs">C13</text>
<text x="102.79" y="160.7" font-size="13.5" fill="#8A8A8A" text-anchor="start" textLength="17.93" lengthAdjust="spacingAndGlyphs">C6</text>
<text x="127.28" y="102.5" font-size="13.5" fill="#8A8A8A" text-anchor="start" textLength="39.27" lengthAdjust="spacingAndGlyphs">78L05</text>
<text x="122.3" y="125" font-size="13" fill="#8A8A8A" text-anchor="start">IN</text>
<text x="153.46" y="125" font-size="13" fill="#8A8A8A" text-anchor="start" textLength="24.1" lengthAdjust="spacingAndGlyphs">OUT</text>
<text x="136.89" y="147" font-size="13" fill="#8A8A8A" text-anchor="start" textLength="26.99" lengthAdjust="spacingAndGlyphs">GND</text>
<text x="156.22" y="166.3" font-size="13.5" fill="#8A8A8A" text-anchor="start" textLength="21.59" lengthAdjust="spacingAndGlyphs">IC3</text>
<text x="134.32" y="196.3" font-size="13.5" fill="#8A8A8A" text-anchor="start" textLength="29.92" lengthAdjust="spacingAndGlyphs">GND</text>
<text x="180.8" y="89.6" font-size="13.5" fill="#8A8A8A" text-anchor="start" textLength="25.76" lengthAdjust="spacingAndGlyphs">+5V</text>
<text transform="translate(228.2 59.8) rotate(-90)" x="-0.5" font-size="14" fill="#8A8A8A" text-anchor="start" textLength="13.54" lengthAdjust="spacingAndGlyphs">S1</text>
<text transform="translate(265.7 60) rotate(-90)" x="-0.5" font-size="14" fill="#8A8A8A" text-anchor="start" textLength="13.56" lengthAdjust="spacingAndGlyphs">S2</text>
<text transform="translate(303.4 59.7) rotate(-90)" x="-0.5" font-size="14" fill="#8A8A8A" text-anchor="start" textLength="13.49" lengthAdjust="spacingAndGlyphs">S3</text>
<text transform="translate(341 60) rotate(-90)" x="-0.49" font-size="14" fill="#8A8A8A" text-anchor="start" textLength="13.31" lengthAdjust="spacingAndGlyphs">S4</text>
<text transform="translate(378.4 60) rotate(-90)" x="-0.5" font-size="14" fill="#8A8A8A" text-anchor="start" textLength="13.46" lengthAdjust="spacingAndGlyphs">S5</text>
<text transform="translate(416 64) rotate(-90)" x="-0.5" font-size="14" fill="#8A8A8A" text-anchor="start" textLength="13.49" lengthAdjust="spacingAndGlyphs">S6</text>
<text transform="translate(289.5 96) rotate(-90)" x="-0.88" font-size="11.5" fill="#8A8A8A" text-anchor="start" class="s">1</text>
<text transform="translate(304.5 96) rotate(-90)" x="-0.58" font-size="11.5" fill="#8A8A8A" text-anchor="start" class="s">2</text>
<text transform="translate(319.5 96) rotate(-90)" x="-0.44" font-size="11.5" fill="#8A8A8A" text-anchor="start" class="s">3</text>
<text transform="translate(334.5 96) rotate(-90)" x="-0.26" font-size="11.5" fill="#8A8A8A" text-anchor="start" class="s">4</text>
<text transform="translate(349.5 96) rotate(-90)" x="-0.46" font-size="11.5" fill="#8A8A8A" text-anchor="start" class="s">5</text>
<text transform="translate(364.5 96) rotate(-90)" x="-0.58" font-size="11.5" fill="#8A8A8A" text-anchor="start" class="s">6</text>
<text transform="translate(379.5 96) rotate(-90)" x="-0.59" font-size="11.5" fill="#8A8A8A" text-anchor="start" class="s">7</text>
<text x="404.66" y="98.5" font-size="13.5" fill="#8A8A8A" text-anchor="start" textLength="18.47" lengthAdjust="spacingAndGlyphs">BP</text>
<text x="209.33" y="98.1" font-size="13.5" fill="#8A8A8A" text-anchor="start" textLength="29.61" lengthAdjust="spacingAndGlyphs">GND</text>
<text x="212.95" y="116.4" font-size="13.5" fill="#8A8A8A" text-anchor="start" textLength="16.38" lengthAdjust="spacingAndGlyphs">R1</text>
<text x="193.89" y="142.8" font-size="13.5" fill="#8A8A8A" text-anchor="start">R2</text>
<text x="193.89" y="157.7" font-size="13.5" fill="#8A8A8A" text-anchor="start">R3</text>
<text x="193.89" y="172.6" font-size="13.5" fill="#8A8A8A" text-anchor="start">R4</text>
<text x="193.89" y="187.6" font-size="13.5" fill="#8A8A8A" text-anchor="start">R5</text>
<text x="193.89" y="202.4" font-size="13.5" fill="#8A8A8A" text-anchor="start">R6</text>
<text x="417.89" y="114.3" font-size="13.5" fill="#8A8A8A" text-anchor="start" textLength="17.9" lengthAdjust="spacingAndGlyphs">C5</text>
<text x="422.21" y="133.2" font-size="13.5" fill="#8A8A8A" text-anchor="start">C4</text>
<text x="406.71" y="148.2" font-size="13.5" fill="#8A8A8A" text-anchor="start">C3</text>
<text x="395.91" y="163.2" font-size="13.5" fill="#8A8A8A" text-anchor="start">C2</text>
<text x="383.91" y="178.8" font-size="13.5" fill="#8A8A8A" text-anchor="start">C1</text>
<text x="457.13" y="179.3" font-size="13.5" fill="#8A8A8A" text-anchor="start" textLength="29.5" lengthAdjust="spacingAndGlyphs">GND</text>
<text x="486.3" y="145.3" font-size="13.5" fill="#8A8A8A" text-anchor="start" textLength="26.84" lengthAdjust="spacingAndGlyphs">R12</text>
<text x="490.42" y="186.2" font-size="13.5" fill="#8A8A8A" text-anchor="start" textLength="26.34" lengthAdjust="spacingAndGlyphs">R10</text>
<text x="443.33" y="59.8" font-size="13.5" fill="#8A8A8A" text-anchor="start" textLength="24.83" lengthAdjust="spacingAndGlyphs">+5V</text>
<text x="473.84" y="89.5" font-size="13.5" fill="#8A8A8A" text-anchor="start" textLength="23.79" lengthAdjust="spacingAndGlyphs">C11</text>
<text x="493.32" y="107" font-size="13.5" fill="#8A8A8A" text-anchor="start" textLength="24.57" lengthAdjust="spacingAndGlyphs">C16</text>
<text transform="translate(565.5 81) rotate(-90)" x="-0.58" font-size="11.5" fill="#8A8A8A" text-anchor="start" class="s">6</text>
<text x="545.36" y="96.4" font-size="11.5" fill="#8A8A8A" text-anchor="start" class="s">3</text>
<text x="545.22" y="126.4" font-size="11.5" fill="#8A8A8A" text-anchor="start" class="s">2</text>
<text transform="translate(566.5 152) rotate(-90)" x="-0.26" font-size="11.5" fill="#8A8A8A" text-anchor="start" class="s">4</text>
<text x="581.04" y="192.4" font-size="13.5" fill="#8A8A8A" text-anchor="start" textLength="29.19" lengthAdjust="spacingAndGlyphs">GND</text>
<text x="561.74" y="122" font-size="13.5" fill="#8A8A8A" text-anchor="start" textLength="43.28" lengthAdjust="spacingAndGlyphs">LM386</text>
<text x="578.3" y="78.6" font-size="13.5" fill="#8A8A8A" text-anchor="start" textLength="20.18" lengthAdjust="spacingAndGlyphs">IC4</text>
<text transform="translate(596.5 99.7) rotate(-90)" x="-0.88" font-size="11.5" fill="#8A8A8A" text-anchor="start" class="s">1</text>
<text transform="translate(612.3 96.4) rotate(-90)" x="-0.5" font-size="11.5" fill="#8A8A8A" text-anchor="start" class="s">8</text>
<text transform="translate(596.5 136.5) rotate(-90)" x="-0.59" font-size="11.5" fill="#8A8A8A" text-anchor="start" class="s">7</text>
<text x="632.04" y="111.9" font-size="11.5" fill="#8A8A8A" text-anchor="start" class="s">5</text>
<text x="635" y="82.5" font-size="5" fill="#8A8A8A" text-anchor="start" class="s"></text>
<text x="647.88" y="83.3" font-size="13.5" fill="#8A8A8A" text-anchor="start" textLength="26.03" lengthAdjust="spacingAndGlyphs">C17</text>
<text x="609.4" y="138" font-size="13.5" fill="#8A8A8A" text-anchor="start" textLength="26.74" lengthAdjust="spacingAndGlyphs">R13</text>
<text x="609.07" y="163.3" font-size="13.5" fill="#8A8A8A" text-anchor="start" textLength="26.35" lengthAdjust="spacingAndGlyphs">C12</text>
<text x="690.62" y="119.1" font-size="11.5" fill="#8A8A8A" text-anchor="start" class="s">1</text>
<text x="690.92" y="134.2" font-size="11.5" fill="#8A8A8A" text-anchor="start" class="s">2</text>
<text x="726.11" y="128.2" font-size="14" fill="#8A8A8A" text-anchor="start" textLength="18.38" lengthAdjust="spacingAndGlyphs">HP</text>
<text x="685.83" y="168.5" font-size="13.5" fill="#8A8A8A" text-anchor="start" textLength="29.82" lengthAdjust="spacingAndGlyphs">GND</text>
<text x="690.62" y="194" font-size="11.5" fill="#8A8A8A" text-anchor="start" class="s">1</text>
<text x="690.92" y="209" font-size="11.5" fill="#8A8A8A" text-anchor="start" class="s">2</text>
<text x="691.06" y="224.2" font-size="11.5" fill="#8A8A8A" text-anchor="start" class="s">3</text>
<text x="728.29" y="244.2" font-size="14" fill="#8A8A8A" text-anchor="start" textLength="23.56" lengthAdjust="spacingAndGlyphs">10K</text>
<text x="637.33" y="255.6" font-size="13.5" fill="#8A8A8A" text-anchor="start" textLength="29.5" lengthAdjust="spacingAndGlyphs">GND</text>
<text x="690.62" y="261.3" font-size="11.5" fill="#8A8A8A" text-anchor="start" class="s">1</text>
<text x="690.92" y="276.3" font-size="11.5" fill="#8A8A8A" text-anchor="start" class="s">2</text>
<text x="726.45" y="297.2" font-size="14" fill="#8A8A8A" text-anchor="start" textLength="27.22" lengthAdjust="spacingAndGlyphs">LED</text>
<text x="690.62" y="327.9" font-size="11.5" fill="#8A8A8A" text-anchor="start" class="s">1</text>
<text x="690.92" y="342.9" font-size="11.5" fill="#8A8A8A" text-anchor="start" class="s">2</text>
<text x="727.7" y="342.4" font-size="14" fill="#8A8A8A" text-anchor="start" textLength="26.78" lengthAdjust="spacingAndGlyphs">TRX</text>
<text x="690.62" y="380.9" font-size="11.5" fill="#8A8A8A" text-anchor="start" class="s">1</text>
<text x="690.92" y="395.9" font-size="11.5" fill="#8A8A8A" text-anchor="start" class="s">2</text>
<text x="691.06" y="410.9" font-size="11.5" fill="#8A8A8A" text-anchor="start" class="s">3</text>
<text x="674.42" y="447.3" font-size="14" fill="#8A8A8A" text-anchor="start" textLength="41.67" lengthAdjust="spacingAndGlyphs">MANIP</text>
<text x="602.51" y="253.8" font-size="13.5" fill="#8A8A8A" text-anchor="start" textLength="18.58" lengthAdjust="spacingAndGlyphs">R9</text>
<text x="572.41" y="232.5" font-size="13.5" fill="#8A8A8A" text-anchor="start" textLength="24.44" lengthAdjust="spacingAndGlyphs">R11</text>
<text x="518.79" y="249.7" font-size="13.5" fill="#8A8A8A" text-anchor="start" textLength="25.76" lengthAdjust="spacingAndGlyphs">C10</text>
<text x="638.2" y="191.3" font-size="13.5" fill="#8A8A8A" text-anchor="start" textLength="25.38" lengthAdjust="spacingAndGlyphs">C15</text>
<text transform="translate(499.5 223.5) rotate(-90)" x="-0.88" font-size="11.5" fill="#8A8A8A" text-anchor="start" class="s">15</text>
<text transform="translate(484.5 223.5) rotate(-90)" x="-0.88" font-size="11.5" fill="#8A8A8A" text-anchor="start" class="s">16</text>
<text transform="translate(469.5 223.5) rotate(-90)" x="-0.88" font-size="11.5" fill="#8A8A8A" text-anchor="start" class="s">17</text>
<text transform="translate(454.5 223.5) rotate(-90)" x="-0.88" font-size="11.5" fill="#8A8A8A" text-anchor="start" class="s">18</text>
<text transform="translate(439.5 223.5) rotate(-90)" x="-0.88" font-size="11.5" fill="#8A8A8A" text-anchor="start" class="s">19</text>
<text transform="translate(424.5 223.5) rotate(-90)" x="-0.58" font-size="11.5" fill="#8A8A8A" text-anchor="start" class="s">20</text>
<text transform="translate(409.5 223.5) rotate(-90)" x="-0.58" font-size="11.5" fill="#8A8A8A" text-anchor="start" class="s">21</text>
<text transform="translate(394.5 223.5) rotate(-90)" x="-0.58" font-size="11.5" fill="#8A8A8A" text-anchor="start" class="s">22</text>
<text transform="translate(379.5 223.5) rotate(-90)" x="-0.58" font-size="11.5" fill="#8A8A8A" text-anchor="start" class="s">23</text>
<text transform="translate(364.5 223.5) rotate(-90)" x="-0.58" font-size="11.5" fill="#8A8A8A" text-anchor="start" class="s">24</text>
<text transform="translate(349.5 223.5) rotate(-90)" x="-0.58" font-size="11.5" fill="#8A8A8A" text-anchor="start" class="s">25</text>
<text transform="translate(334.5 223.5) rotate(-90)" x="-0.58" font-size="11.5" fill="#8A8A8A" text-anchor="start" class="s">26</text>
<text transform="translate(319.5 223.5) rotate(-90)" x="-0.58" font-size="11.5" fill="#8A8A8A" text-anchor="start" class="s">27</text>
<text transform="translate(304.5 223.5) rotate(-90)" x="-0.58" font-size="11.5" fill="#8A8A8A" text-anchor="start" class="s">28</text>
<text transform="translate(303.5 288.3) rotate(-90)" x="0.56" font-size="11.5" fill="#8A8A8A" text-anchor="end" class="s">1</text>
<text transform="translate(318.5 288.3) rotate(-90)" x="0.58" font-size="11.5" fill="#8A8A8A" text-anchor="end" class="s">2</text>
<text transform="translate(333.5 288.3) rotate(-90)" x="0.51" font-size="11.5" fill="#8A8A8A" text-anchor="end" class="s">3</text>
<text transform="translate(348.5 288.3) rotate(-90)" x="0.34" font-size="11.5" fill="#8A8A8A" text-anchor="end" class="s">4</text>
<text transform="translate(363.5 288.3) rotate(-90)" x="0.48" font-size="11.5" fill="#8A8A8A" text-anchor="end" class="s">5</text>
<text transform="translate(378.5 288.3) rotate(-90)" x="0.51" font-size="11.5" fill="#8A8A8A" text-anchor="end" class="s">6</text>
<text transform="translate(393.5 288.3) rotate(-90)" x="0.58" font-size="11.5" fill="#8A8A8A" text-anchor="end" class="s">7</text>
<text transform="translate(408.5 288.3) rotate(-90)" x="0.5" font-size="11.5" fill="#8A8A8A" text-anchor="end" class="s">8</text>
<text transform="translate(423.5 288.3) rotate(-90)" x="0.54" font-size="11.5" fill="#8A8A8A" text-anchor="end" class="s">9</text>
<text transform="translate(438.5 288.3) rotate(-90)" x="0.45" font-size="11.5" fill="#8A8A8A" text-anchor="end" class="s">10</text>
<text transform="translate(453.5 288.3) rotate(-90)" x="0.56" font-size="11.5" fill="#8A8A8A" text-anchor="end" class="s">11</text>
<text transform="translate(468.5 288.3) rotate(-90)" x="0.58" font-size="11.5" fill="#8A8A8A" text-anchor="end" class="s">12</text>
<text transform="translate(483.5 288.3) rotate(-90)" x="0.51" font-size="11.5" fill="#8A8A8A" text-anchor="end" class="s">13</text>
<text transform="translate(498.5 288.3) rotate(-90)" x="0.34" font-size="11.5" fill="#8A8A8A" text-anchor="end" class="s">14</text>
<text x="427.37" y="255.7" font-size="13.5" fill="#8A8A8A" text-anchor="start" textLength="49.45" lengthAdjust="spacingAndGlyphs">AT328P</text>
<text x="438.87" y="269.5" font-size="13.5" fill="#8A8A8A" text-anchor="start" textLength="22.46" lengthAdjust="spacingAndGlyphs">IC2</text>
<text x="423.33" y="347.3" font-size="13.5" fill="#8A8A8A" text-anchor="start" textLength="18.77" lengthAdjust="spacingAndGlyphs">Q2</text>
<text x="459.61" y="348.2" font-size="13.5" fill="#8A8A8A" text-anchor="start" textLength="18.52" lengthAdjust="spacingAndGlyphs">R7</text>
<text x="489.52" y="348.2" font-size="13.5" fill="#8A8A8A" text-anchor="start" textLength="18.41" lengthAdjust="spacingAndGlyphs">R8</text>
<text x="457.01" y="432.3" font-size="13.5" fill="#8A8A8A" text-anchor="start" textLength="25.55" lengthAdjust="spacingAndGlyphs">+5V</text>
<text x="519.2" y="432.2" font-size="13.5" fill="#8A8A8A" text-anchor="start" textLength="17.66" lengthAdjust="spacingAndGlyphs">C9</text>
<text x="560.72" y="430.6" font-size="13.5" fill="#8A8A8A" text-anchor="start" textLength="17.06" lengthAdjust="spacingAndGlyphs">C8</text>
<text transform="translate(274.5 384.5) rotate(-90)" x="-0.46" font-size="11.5" fill="#8A8A8A" text-anchor="start" class="s">5</text>
<text transform="translate(289.5 384.5) rotate(-90)" x="-0.26" font-size="11.5" fill="#8A8A8A" text-anchor="start" class="s">4</text>
<text transform="translate(304.5 384.5) rotate(-90)" x="-0.44" font-size="11.5" fill="#8A8A8A" text-anchor="start" class="s">3</text>
<text transform="translate(319.5 384.5) rotate(-90)" x="-0.58" font-size="11.5" fill="#8A8A8A" text-anchor="start" class="s">2</text>
<text transform="translate(334.5 384.5) rotate(-90)" x="-0.88" font-size="11.5" fill="#8A8A8A" text-anchor="start" class="s">1</text>
<text transform="translate(364.5 384.5) rotate(-90)" x="-0.26" font-size="11.5" fill="#8A8A8A" text-anchor="start" class="s">4</text>
<text transform="translate(379.5 384.5) rotate(-90)" x="-0.44" font-size="11.5" fill="#8A8A8A" text-anchor="start" class="s">3</text>
<text transform="translate(394.5 384.5) rotate(-90)" x="-0.58" font-size="11.5" fill="#8A8A8A" text-anchor="start" class="s">2</text>
<text transform="translate(409.5 384.5) rotate(-90)" x="-0.88" font-size="11.5" fill="#8A8A8A" text-anchor="start" class="s">1</text>
<text x="266.63" y="423.2" font-size="13.5" fill="#8A8A8A" text-anchor="start" textLength="21.48" lengthAdjust="spacingAndGlyphs">Rst</text>
<text x="304.72" y="423.2" font-size="13.5" fill="#8A8A8A" text-anchor="start" textLength="13.71" lengthAdjust="spacingAndGlyphs">Tx</text>
<text x="331.79" y="427.4" font-size="13.5" fill="#8A8A8A" text-anchor="start" textLength="16.56" lengthAdjust="spacingAndGlyphs">Rx</text>
<text x="355.79" y="420.2" font-size="13.5" fill="#8A8A8A" text-anchor="start" textLength="20.29" lengthAdjust="spacingAndGlyphs">Clk</text>
<text x="401.09" y="420.2" font-size="13.5" fill="#8A8A8A" text-anchor="start" textLength="28.51" lengthAdjust="spacingAndGlyphs">Data</text>
<text x="295.16" y="439.4" font-size="13.5" fill="#8A8A8A" text-anchor="start" textLength="31.35" lengthAdjust="spacingAndGlyphs">ICSP</text>
<text x="358.83" y="439.4" font-size="13.5" fill="#8A8A8A" text-anchor="start" textLength="56.79" lengthAdjust="spacingAndGlyphs">CLAVIER</text>
<text x="202.33" y="443.5" font-size="13.5" fill="#8A8A8A" text-anchor="start" textLength="29.5" lengthAdjust="spacingAndGlyphs">GND</text>
<text x="212.24" y="234.1" font-size="13.5" fill="#8A8A8A" text-anchor="start" textLength="16.61" lengthAdjust="spacingAndGlyphs">C7</text>
<text x="164.34" y="248.2" font-size="13.5" fill="#8A8A8A" text-anchor="start" textLength="29.19" lengthAdjust="spacingAndGlyphs">GND</text>
<text x="205.13" y="285.6" font-size="13.5" fill="#8A8A8A" text-anchor="start" textLength="24.26" lengthAdjust="spacingAndGlyphs">C14</text>
<text x="209.33" y="323.3" font-size="13.5" fill="#8A8A8A" text-anchor="start" textLength="24.73" lengthAdjust="spacingAndGlyphs">+5V</text>
<text x="573.99" y="300.3" font-size="13.5" fill="#8A8A8A" text-anchor="start" textLength="42.9" lengthAdjust="spacingAndGlyphs">TIL197</text>
<text x="632.88" y="304.5" font-size="13.5" fill="#8A8A8A" text-anchor="start" textLength="26.37" lengthAdjust="spacingAndGlyphs">OK1</text>
<text x="540.14" y="339.2" font-size="13.5" fill="#8A8A8A" text-anchor="start" textLength="29.29" lengthAdjust="spacingAndGlyphs">GND</text>
<text x="568.12" y="322.4" font-size="11.5" fill="#8A8A8A" text-anchor="start" class="s">1</text>
<text x="568.42" y="352.5" font-size="11.5" fill="#8A8A8A" text-anchor="start" class="s">2</text>
<text x="654.74" y="321.6" font-size="11.5" fill="#8A8A8A" text-anchor="start" class="s">4</text>
<text x="654.56" y="351.5" font-size="11.5" fill="#8A8A8A" text-anchor="start" class="s">3</text>
<path d="M30.5 122.5L104.5 122.5" stroke="#3A9A3A" stroke-width="1" fill="none" stroke-linecap="square"/>
<path d="M30.5 137.5L30.5 167.5L150.5 167.5" stroke="#3A9A3A" stroke-width="1" fill="none" stroke-linecap="square"/>
<polygon points="75.15,124.01 73.01,126.15 69.99,126.15 67.85,124.01 67.85,120.99 69.99,118.85 73.01,118.85 75.15,120.99" fill="#3A9A3A"/>
<polygon points="105.15,124.01 103.01,126.15 99.99,126.15 97.85,124.01 97.85,120.99 99.99,118.85 103.01,118.85 105.15,120.99" fill="#3A9A3A"/>
<polygon points="75.15,169.01 73.01,171.15 69.99,171.15 67.85,169.01 67.85,165.99 69.99,163.85 73.01,163.85 75.15,165.99" fill="#3A9A3A"/>
<polygon points="105.15,169.01 103.01,171.15 99.99,171.15 97.85,169.01 97.85,165.99 99.99,163.85 103.01,163.85 105.15,165.99" fill="#3A9A3A"/>
<polygon points="154.15,169.01 152.01,171.15 148.99,171.15 146.85,169.01 146.85,165.99 148.99,163.85 152.01,163.85 154.15,165.99" fill="#3A9A3A"/>
<path d="M71.5 110.5L71.5 122.5" stroke="#3A9A3A" stroke-width="1" fill="none" stroke-linecap="square"/>
<path d="M192.5 122.5L217.5 122.5" stroke="#3A9A3A" stroke-width="1" fill="none" stroke-linecap="square"/>
<polygon points="199.15,124.01 197.01,126.15 193.99,126.15 191.85,124.01 191.85,120.99 193.99,118.85 197.01,118.85 199.15,120.99" fill="#3A9A3A"/>
<path d="M195.5 107.5L195.5 122.5" stroke="#3A9A3A" stroke-width="1" fill="none" stroke-linecap="square"/>
<path d="M262.5 99.5L307.5 99.5L307.5 90.5" stroke="#3A9A3A" stroke-width="1" fill="none" stroke-linecap="square"/>
<polygon points="221.15,124.01 219.01,126.15 215.99,126.15 213.85,124.01 213.85,120.99 215.99,118.85 219.01,118.85 221.15,120.99" fill="#3A9A3A"/>
<polygon points="221.15,139.01 219.01,141.15 215.99,141.15 213.85,139.01 213.85,135.99 215.99,133.85 219.01,133.85 221.15,135.99" fill="#3A9A3A"/>
<polygon points="221.15,154.01 219.01,156.15 215.99,156.15 213.85,154.01 213.85,150.99 215.99,148.85 219.01,148.85 221.15,150.99" fill="#3A9A3A"/>
<polygon points="221.15,169.01 219.01,171.15 215.99,171.15 213.85,169.01 213.85,165.99 215.99,163.85 219.01,163.85 221.15,165.99" fill="#3A9A3A"/>
<polygon points="221.15,184.01 219.01,186.15 215.99,186.15 213.85,184.01 213.85,180.99 215.99,178.85 219.01,178.85 221.15,180.99" fill="#3A9A3A"/>
<polygon points="221.15,199.01 219.01,201.15 215.99,201.15 213.85,199.01 213.85,195.99 215.99,193.85 219.01,193.85 221.15,195.99" fill="#3A9A3A"/>
<path d="M217.5 122.5L217.5 212.5L262.5 212.5L262.5 324.5" stroke="#3A9A3A" stroke-width="1" fill="none" stroke-linecap="square"/>
<path d="M277.5 122.5L390.5 122.5" stroke="#3A9A3A" stroke-width="1" fill="none" stroke-linecap="square"/>
<path d="M277.5 137.5L428.5 137.5" stroke="#3A9A3A" stroke-width="1" fill="none" stroke-linecap="square"/>
<path d="M277.5 152.5L413.5 152.5" stroke="#3A9A3A" stroke-width="1" fill="none" stroke-linecap="square"/>
<path d="M277.5 167.5L397.5 167.5" stroke="#3A9A3A" stroke-width="1" fill="none" stroke-linecap="square"/>
<path d="M277.5 182.5L382.5 182.5" stroke="#3A9A3A" stroke-width="1" fill="none" stroke-linecap="square"/>
<polygon points="281.15,199.01 279.01,201.15 275.99,201.15 273.85,199.01 273.85,195.99 275.99,193.85 279.01,193.85 281.15,195.99" fill="#3A9A3A"/>
<path d="M292.5 90.5L292.5 197.5L277.5 197.5L277.5 300.5L307.5 300.5" stroke="#3A9A3A" stroke-width="1" fill="none" stroke-linecap="square"/>
<polygon points="296.15,302.01 294.01,304.15 290.99,304.15 288.85,302.01 288.85,298.99 290.99,296.85 294.01,296.85 296.15,298.99" fill="#3A9A3A"/>
<path d="M322.5 90.5L322.5 212.5" stroke="#3A9A3A" stroke-width="1" fill="none" stroke-linecap="square"/>
<polygon points="326.15,124.01 324.01,126.15 320.99,126.15 318.85,124.01 318.85,120.99 320.99,118.85 324.01,118.85 326.15,120.99" fill="#3A9A3A"/>
<path d="M337.5 90.5L337.5 212.5" stroke="#3A9A3A" stroke-width="1" fill="none" stroke-linecap="square"/>
<polygon points="341.15,139.01 339.01,141.15 335.99,141.15 333.85,139.01 333.85,135.99 335.99,133.85 339.01,133.85 341.15,135.99" fill="#3A9A3A"/>
<path d="M352.5 90.5L352.5 212.5" stroke="#3A9A3A" stroke-width="1" fill="none" stroke-linecap="square"/>
<polygon points="356.15,154.01 354.01,156.15 350.99,156.15 348.85,154.01 348.85,150.99 350.99,148.85 354.01,148.85 356.15,150.99" fill="#3A9A3A"/>
<path d="M367.5 90.5L367.5 212.5" stroke="#3A9A3A" stroke-width="1" fill="none" stroke-linecap="square"/>
<polygon points="371.15,169.01 369.01,171.15 365.99,171.15 363.85,169.01 363.85,165.99 365.99,163.85 369.01,163.85 371.15,165.99" fill="#3A9A3A"/>
<path d="M382.5 90.5L382.5 212.5" stroke="#3A9A3A" stroke-width="1" fill="none" stroke-linecap="square"/>
<polygon points="386.15,184.01 384.01,186.15 380.99,186.15 378.85,184.01 378.85,180.99 380.99,178.85 384.01,178.85 386.15,180.99" fill="#3A9A3A"/>
<path d="M435.5 122.5L481.5 122.5" stroke="#3A9A3A" stroke-width="1" fill="none" stroke-linecap="square"/>
<polygon points="476.15,124.01 474.01,126.15 470.99,126.15 468.85,124.01 468.85,120.99 470.99,118.85 474.01,118.85 476.15,120.99" fill="#3A9A3A"/>
<polygon points="476.15,139.01 474.01,141.15 470.99,141.15 468.85,139.01 468.85,135.99 470.99,133.85 474.01,133.85 476.15,135.99" fill="#3A9A3A"/>
<polygon points="476.15,154.01 474.01,156.15 470.99,156.15 468.85,154.01 468.85,150.99 470.99,148.85 474.01,148.85 476.15,150.99" fill="#3A9A3A"/>
<polygon points="461.15,154.01 459.01,156.15 455.99,156.15 453.85,154.01 453.85,150.99 455.99,148.85 459.01,148.85 461.15,150.99" fill="#3A9A3A"/>
<polygon points="446.15,169.01 444.01,171.15 440.99,171.15 438.85,169.01 438.85,165.99 440.99,163.85 444.01,163.85 446.15,165.99" fill="#3A9A3A"/>
<polygon points="431.15,184.01 429.01,186.15 425.99,186.15 423.85,184.01 423.85,180.99 425.99,178.85 429.01,178.85 431.15,180.99" fill="#3A9A3A"/>
<polygon points="386.15,184.01 384.01,186.15 380.99,186.15 378.85,184.01 378.85,180.99 380.99,178.85 384.01,178.85 386.15,180.99" fill="#3A9A3A"/>
<path d="M472.5 122.5L472.5 152.5" stroke="#3A9A3A" stroke-width="1" fill="none" stroke-linecap="square"/>
<path d="M457.5 152.5L472.5 152.5" stroke="#3A9A3A" stroke-width="1" fill="none" stroke-linecap="square"/>
<path d="M457.5 152.5L457.5 167.5L442.5 167.5L442.5 182.5L427.5 182.5L427.5 197.5L397.5 197.5L397.5 212.5" stroke="#3A9A3A" stroke-width="1" fill="none" stroke-linecap="square"/>
<polygon points="536.15,154.01 534.01,156.15 530.99,156.15 528.85,154.01 528.85,150.99 530.99,148.85 534.01,148.85 536.15,150.99" fill="#3A9A3A"/>
<path d="M472.5 197.5L472.5 212.5" stroke="#3A9A3A" stroke-width="1" fill="none" stroke-linecap="square"/>
<polygon points="536.15,199.01 534.01,201.15 530.99,201.15 528.85,199.01 528.85,195.99 530.99,193.85 534.01,193.85 536.15,195.99" fill="#3A9A3A"/>
<path d="M465.5 69.5L569.5 69.5" stroke="#3A9A3A" stroke-width="1" fill="none" stroke-linecap="square"/>
<polygon points="476.15,71.01 474.01,73.15 470.99,73.15 468.85,71.01 468.85,67.99 470.99,65.85 474.01,65.85 476.15,67.99" fill="#3A9A3A"/>
<path d="M472.5 69.5L472.5 77.5" stroke="#3A9A3A" stroke-width="1" fill="none" stroke-linecap="square"/>
<path d="M472.5 117.5L472.5 122.5" stroke="#3A9A3A" stroke-width="1" fill="none" stroke-linecap="square"/>
<path d="M525.5 122.5L532.5 122.5" stroke="#3A9A3A" stroke-width="1" fill="none" stroke-linecap="square"/>
<polygon points="536.15,124.01 534.01,126.15 530.99,126.15 528.85,124.01 528.85,120.99 530.99,118.85 534.01,118.85 536.15,120.99" fill="#3A9A3A"/>
<path d="M532.5 122.5L532.5 99.5L540.5 99.5" stroke="#3A9A3A" stroke-width="1" fill="none" stroke-linecap="square"/>
<path d="M532.5 122.5L532.5 182.5L547.5 182.5L547.5 212.5L555.5 212.5" stroke="#3A9A3A" stroke-width="1" fill="none" stroke-linecap="square"/>
<path d="M540.5 129.5L540.5 159.5L570.5 159.5" stroke="#3A9A3A" stroke-width="1" fill="none" stroke-linecap="square"/>
<polygon points="574.15,161.01 572.01,163.15 568.99,163.15 566.85,161.01 566.85,157.99 568.99,155.85 572.01,155.85 574.15,157.99" fill="#3A9A3A"/>
<polygon points="574.15,169.01 572.01,171.15 568.99,171.15 566.85,169.01 566.85,165.99 568.99,163.85 572.01,163.85 574.15,165.99" fill="#3A9A3A"/>
<path d="M570.5 159.5L570.5 167.5" stroke="#3A9A3A" stroke-width="1" fill="none" stroke-linecap="square"/>
<polygon points="649.15,116.01 647.01,118.15 643.99,118.15 641.85,116.01 641.85,112.99 643.99,110.85 647.01,110.85 649.15,112.99" fill="#3A9A3A"/>
<path d="M646.5 69.5L682.5 69.5L682.5 122.5L701.5 122.5" stroke="#3A9A3A" stroke-width="1" fill="none" stroke-linecap="square"/>
<path d="M645.5 174.5L622.5 174.5L622.5 167.5" stroke="#3A9A3A" stroke-width="1" fill="none" stroke-linecap="square"/>
<path d="M570.5 167.5L578.5 167.5" stroke="#3A9A3A" stroke-width="1" fill="none" stroke-linecap="square"/>
<path d="M701.5 137.5L667.5 137.5L667.5 152.5" stroke="#3A9A3A" stroke-width="1" fill="none" stroke-linecap="square"/>
<path d="M652.5 197.5L701.5 197.5" stroke="#3A9A3A" stroke-width="1" fill="none" stroke-linecap="square"/>
<path d="M615.5 212.5L701.5 212.5" stroke="#3A9A3A" stroke-width="1" fill="none" stroke-linecap="square"/>
<path d="M577.5 238.5L637.5 238.5L637.5 227.5L701.5 227.5" stroke="#3A9A3A" stroke-width="1" fill="none" stroke-linecap="square"/>
<polygon points="664.15,229.01 662.01,231.15 658.99,231.15 656.85,229.01 656.85,225.99 658.99,223.85 662.01,223.85 664.15,225.99" fill="#3A9A3A"/>
<path d="M645.5 264.5L701.5 264.5" stroke="#3A9A3A" stroke-width="1" fill="none" stroke-linecap="square"/>
<path d="M562.5 324.5L562.5 279.5L701.5 279.5" stroke="#3A9A3A" stroke-width="1" fill="none" stroke-linecap="square"/>
<path d="M502.5 301.5L547.5 301.5L547.5 264.5L585.5 264.5" stroke="#3A9A3A" stroke-width="1" fill="none" stroke-linecap="square"/>
<path d="M532.5 197.5L532.5 238.5L532.5 238.5" stroke="#3A9A3A" stroke-width="1" fill="none" stroke-linecap="square"/>
<path d="M532.5 197.5L607.5 197.5" stroke="#3A9A3A" stroke-width="1" fill="none" stroke-linecap="square"/>
<polygon points="431.15,214.01 429.01,216.15 425.99,216.15 423.85,214.01 423.85,210.99 425.99,208.85 429.01,208.85 431.15,210.99" fill="#3A9A3A"/>
<path d="M427.5 212.5L427.5 242.5L397.5 242.5L397.5 301.5" stroke="#3A9A3A" stroke-width="1" fill="none" stroke-linecap="square"/>
<polygon points="401.15,303.01 399.01,305.15 395.99,305.15 393.85,303.01 393.85,299.99 395.99,297.85 399.01,297.85 401.15,299.99" fill="#3A9A3A"/>
<path d="M487.5 212.5L487.5 212.5" stroke="#3A9A3A" stroke-width="1" fill="none" stroke-linecap="square"/>
<path d="M472.5 197.5L472.5 212.5" stroke="#3A9A3A" stroke-width="1" fill="none" stroke-linecap="square"/>
<path d="M322.5 301.5L322.5 386.5" stroke="#3A9A3A" stroke-width="1" fill="none" stroke-linecap="square"/>
<path d="M337.5 301.5L337.5 386.5" stroke="#3A9A3A" stroke-width="1" fill="none" stroke-linecap="square"/>
<path d="M292.5 300.5L292.5 386.5" stroke="#3A9A3A" stroke-width="1" fill="none" stroke-linecap="square"/>
<path d="M255.5 324.5L397.5 324.5L397.5 301.5" stroke="#3A9A3A" stroke-width="1" fill="none" stroke-linecap="square"/>
<polygon points="266.15,326.01 264.01,328.15 260.99,328.15 258.85,326.01 258.85,322.99 260.99,320.85 264.01,320.85 266.15,322.99" fill="#3A9A3A"/>
<polygon points="281.15,326.01 279.01,328.15 275.99,328.15 273.85,326.01 273.85,322.99 275.99,320.85 279.01,320.85 281.15,322.99" fill="#3A9A3A"/>
<polygon points="356.15,326.01 354.01,328.15 350.99,328.15 348.85,326.01 348.85,322.99 350.99,320.85 354.01,320.85 356.15,322.99" fill="#3A9A3A"/>
<path d="M277.5 324.5L277.5 386.5" stroke="#3A9A3A" stroke-width="1" fill="none" stroke-linecap="square"/>
<path d="M307.5 386.5L307.5 343.5L255.5 343.5L255.5 444.5" stroke="#3A9A3A" stroke-width="1" fill="none" stroke-linecap="square"/>
<path d="M367.5 301.5L367.5 346.5L382.5 346.5L382.5 386.5" stroke="#3A9A3A" stroke-width="1" fill="none" stroke-linecap="square"/>
<path d="M382.5 301.5L382.5 339.5L397.5 339.5L397.5 386.5" stroke="#3A9A3A" stroke-width="1" fill="none" stroke-linecap="square"/>
<path d="M352.5 324.5L352.5 354.5L367.5 354.5L367.5 386.5" stroke="#3A9A3A" stroke-width="1" fill="none" stroke-linecap="square"/>
<path d="M412.5 301.5L412.5 386.5" stroke="#3A9A3A" stroke-width="1" fill="none" stroke-linecap="square"/>
<polygon points="416.15,356.01 414.01,358.15 410.99,358.15 408.85,356.01 408.85,352.99 410.99,350.85 414.01,350.85 416.15,352.99" fill="#3A9A3A"/>
<path d="M412.5 354.5L435.5 354.5L435.5 444.5" stroke="#3A9A3A" stroke-width="1" fill="none" stroke-linecap="square"/>
<polygon points="439.15,446.01 437.01,448.15 433.99,448.15 431.85,446.01 431.85,442.99 433.99,440.85 437.01,440.85 439.15,442.99" fill="#3A9A3A"/>
<path d="M427.5 301.5L420.5 301.5L420.5 324.5" stroke="#3A9A3A" stroke-width="1" fill="none" stroke-linecap="square"/>
<path d="M442.5 301.5L442.5 309.5L450.5 309.5L450.5 324.5" stroke="#3A9A3A" stroke-width="1" fill="none" stroke-linecap="square"/>
<path d="M457.5 301.5L457.5 331.5L517.5 331.5L517.5 391.5L622.5 391.5L622.5 414.5L701.5 414.5" stroke="#3A9A3A" stroke-width="1" fill="none" stroke-linecap="square"/>
<polygon points="461.15,333.01 459.01,335.15 455.99,335.15 453.85,333.01 453.85,329.99 455.99,327.85 459.01,327.85 461.15,329.99" fill="#3A9A3A"/>
<path d="M457.5 331.5L457.5 340.5" stroke="#3A9A3A" stroke-width="1" fill="none" stroke-linecap="square"/>
<path d="M472.5 301.5L472.5 316.5L532.5 316.5L532.5 384.5L701.5 384.5" stroke="#3A9A3A" stroke-width="1" fill="none" stroke-linecap="square"/>
<polygon points="491.15,318.01 489.01,320.15 485.99,320.15 483.85,318.01 483.85,314.99 485.99,312.85 489.01,312.85 491.15,314.99" fill="#3A9A3A"/>
<path d="M487.5 316.5L487.5 339.5" stroke="#3A9A3A" stroke-width="1" fill="none" stroke-linecap="square"/>
<path d="M457.5 399.5L487.5 399.5" stroke="#3A9A3A" stroke-width="1" fill="none" stroke-linecap="square"/>
<polygon points="476.15,401.01 474.01,403.15 470.99,403.15 468.85,401.01 468.85,397.99 470.99,395.85 474.01,395.85 476.15,397.99" fill="#3A9A3A"/>
<polygon points="521.15,393.01 519.01,395.15 515.99,395.15 513.85,393.01 513.85,389.99 515.99,387.85 519.01,387.85 521.15,389.99" fill="#3A9A3A"/>
<polygon points="559.15,386.01 557.01,388.15 553.99,388.15 551.85,386.01 551.85,382.99 553.99,380.85 557.01,380.85 559.15,382.99" fill="#3A9A3A"/>
<path d="M517.5 436.5L517.5 444.5" stroke="#3A9A3A" stroke-width="1" fill="none" stroke-linecap="square"/>
<path d="M555.5 436.5L555.5 444.5" stroke="#3A9A3A" stroke-width="1" fill="none" stroke-linecap="square"/>
<polygon points="521.15,446.01 519.01,448.15 515.99,448.15 513.85,446.01 513.85,442.99 515.99,440.85 519.01,440.85 521.15,442.99" fill="#3A9A3A"/>
<polygon points="559.15,446.01 557.01,448.15 553.99,448.15 551.85,446.01 551.85,442.99 553.99,440.85 557.01,440.85 559.15,442.99" fill="#3A9A3A"/>
<path d="M255.5 444.5L660.5 444.5L660.5 399.5L701.5 399.5" stroke="#3A9A3A" stroke-width="1" fill="none" stroke-linecap="square"/>
<polygon points="259.15,446.01 257.01,448.15 253.99,448.15 251.85,446.01 251.85,442.99 253.99,440.85 257.01,440.85 259.15,442.99" fill="#3A9A3A"/>
<polygon points="221.15,244.01 219.01,246.15 215.99,246.15 213.85,244.01 213.85,240.99 215.99,238.85 219.01,238.85 221.15,240.99" fill="#3A9A3A"/>
<polygon points="266.15,244.01 264.01,246.15 260.99,246.15 258.85,244.01 258.85,240.99 260.99,238.85 264.01,238.85 266.15,240.99" fill="#3A9A3A"/>
<path d="M217.5 242.5L217.5 271.5" stroke="#3A9A3A" stroke-width="1" fill="none" stroke-linecap="square"/>
<polygon points="266.15,273.01 264.01,275.15 260.99,275.15 258.85,273.01 258.85,269.99 260.99,267.85 264.01,267.85 266.15,269.99" fill="#3A9A3A"/>
<path d="M667.5 324.5L667.5 331.5L701.5 331.5" stroke="#3A9A3A" stroke-width="1" fill="none" stroke-linecap="square"/>
<path d="M667.5 353.5L667.5 346.5L701.5 346.5" stroke="#3A9A3A" stroke-width="1" fill="none" stroke-linecap="square"/></g>
</svg></body></html>
